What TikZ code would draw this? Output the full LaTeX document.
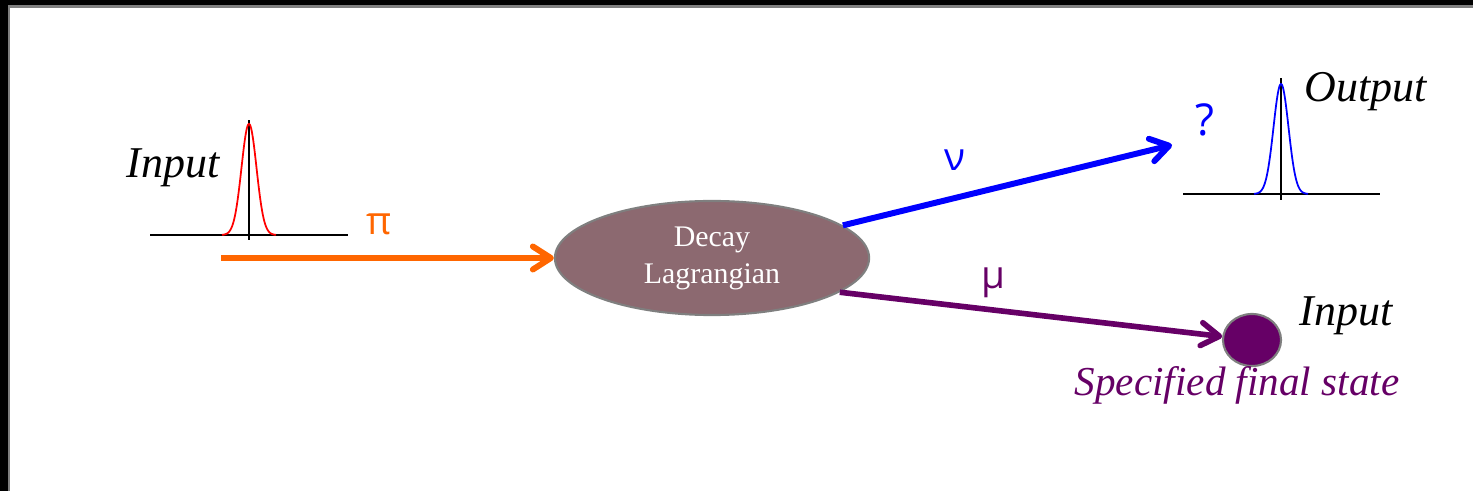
\documentclass[tikz,border=0pt]{standalone}
\usepackage{fontspec}
\setmainfont{Liberation Serif}
\newfontfamily\grk{Open Sans}
\usetikzlibrary{arrows.meta,shapes.geometric}
\definecolor{pion}{HTML}{FF6600}
\definecolor{neut}{HTML}{0000FF}
\definecolor{muon}{HTML}{660066}
\definecolor{lagr}{HTML}{8C6970}
\definecolor{rand}{HTML}{7F7F7F}
\tikzset{
  teil/.style={-{Straight Barb[length=1.8mm,width=2.3mm,round]},line width=1.7pt},
  achse/.style={black,line width=0.45pt},
  kursiv/.style={font=\fontsize{12.5}{14}\selectfont\itshape,inner sep=0pt},
  grieche/.style={font=\grk\fontsize{11}{13}\selectfont,inner sep=0pt},
  zerfall/.style={ellipse,fill=lagr,draw=rand,line width=0.6pt,text=white,align=center,
    minimum width=3.14cm,minimum height=1.14cm,inner sep=0pt,font=\fontsize{8.5}{10.5}\selectfont},
}
\begin{document}
\begin{tikzpicture}[x=0.01cm,y=0.01cm]
  \useasboundingbox (0,0) rectangle (1473,491);
  % Rahmen oben und links
  \fill[black] (0,485) rectangle (1473,491);
  \fill[black] (0,0) rectangle (8,491);
  \draw[rand,line width=0.6pt] (9,0)--(9,484.5)--(1473,484.5);
  % Eingang: Wellenpaket
  \draw[achse] (150,256)--(348,256);
  \draw[achse] (249,251)--(249,371);
  \draw[red,line width=0.5pt,domain=222:276,samples=140,variable=\x]
    plot ({\x},{256+111*exp(-((\x-249)^2)/112.5)});
  \node[kursiv] (ein) at (173,323) {Input};
  % Ausgang: Wellenpaket
  \draw[achse] (1183,297)--(1380,297);
  \draw[achse] (1281,291)--(1281,413);
  \draw[neut,line width=0.5pt,domain=1254:1308,samples=140,variable=\x]
    plot ({\x},{297+110*exp(-((\x-1281)^2)/112.5)});
  \node[kursiv] (aus) at (1366,399) {Output};
  \node[grieche,neut,font=\grk\fontsize{12.5}{14}\selectfont] (frage) at (1205,371) {?};
  % Zerfall
  \node[zerfall] (dec) at (712,233) {Decay\\Lagrangian};
  \node[ellipse,fill=muon,draw=rand,line width=0.6pt,minimum width=0.58cm,
    minimum height=0.52cm,inner sep=0pt] (fin) at (1252,151) {};
  \node[kursiv] (ein2) at (1346,175) {Input};
  \node[kursiv,muon,font=\fontsize{11.7}{14}\selectfont\itshape] (spez) at (1237,106) {Specified final state};
  % Teilchen
  \coordinate (pistart) at (221,233);
  \coordinate (nuende) at (1172,346);
  \draw[teil,pion] (pistart)--(dec.west);
  \draw[teil,neut] (dec.14)--(nuende);
  \draw[teil,muon,line width=1.6pt] (dec.-15)--(fin);
  \node[grieche,pion] (pi) at (379,267) {π};
  \node[grieche,neut] (nu) at (955,331) {ν};
  \node[grieche,muon] (mu) at (993,208) {μ};
\end{tikzpicture}
\end{document}
